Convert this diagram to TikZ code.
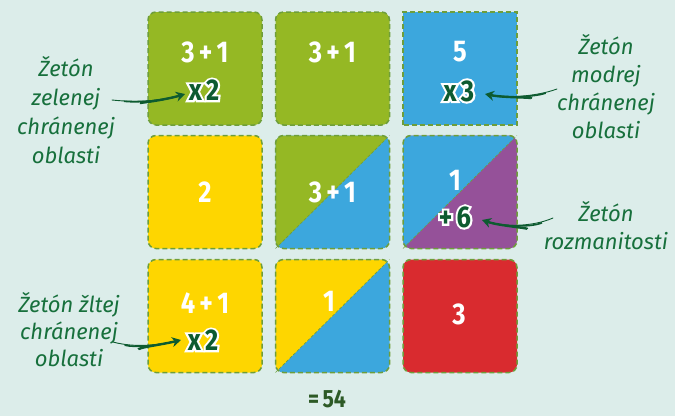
\documentclass[tikz,border=0pt]{standalone}
\usepackage{fontspec}
\setmainfont{Fira Sans}
\newfontfamily\numf{Fira Sans}[UprightFont=* Bold,WordSpace=0.7,FakeStretch=0.85]
\newfontfamily\numfo{Fira Sans}[UprightFont=* Bold,WordSpace=0.7,FakeStretch=0.85,FakeBold=14]
\usetikzlibrary{arrows.meta}
\definecolor{bg}{HTML}{DCEDEA}
\definecolor{grn}{HTML}{95B824}
\definecolor{blu}{HTML}{3CA7DD}
\definecolor{yel}{HTML}{FED600}
\definecolor{pur}{HTML}{955199}
\definecolor{redc}{HTML}{D92B2F}
\definecolor{dashc}{HTML}{6E9E3A}
\definecolor{labc}{HTML}{17703C}
\definecolor{mkc}{HTML}{0D5B30}
\definecolor{totc}{HTML}{2D5A26}
\tikzset{
  tile/.style={minimum width=114pt, minimum height=113pt, rounded corners=8pt, inner sep=0pt, outer sep=0pt},
  tborder/.style={draw=dashc, line width=1.5pt, dash pattern=on 5pt off 3pt, rounded corners=8pt},
  diag/.style={draw=dashc, line width=0.6pt, dash pattern=on 3pt off 2pt},
  num/.style={font=\numf\fontsize{30}{30}\selectfont, text=white, inner sep=0pt},
  mko/.style={font=\numfo\fontsize{30}{30}\selectfont, text=white, inner sep=0pt},
  mk/.style={font=\numf\fontsize{30}{30}\selectfont, text=mkc, inner sep=0pt},
  lab/.style={font=\itshape\fontsize{22}{28}\selectfont, text=labc, align=center, inner sep=0pt},
  arrc/.style={draw=mkc},
}
\newcommand\mytaper[4]{%
  \draw[arrc, line width=0.9pt, line cap=round, shorten >=7pt] #1 .. controls #2 and #3 .. #4;
  \draw[arrc, line width=1.6pt, shorten <=12pt, shorten >=7pt] #1 .. controls #2 and #3 .. #4;
  \draw[arrc, line width=2.4pt, shorten <=28pt, -{Stealth[length=9pt,width=10pt]}] #1 .. controls #2 and #3 .. #4;
}
\begin{document}
\begin{tikzpicture}[x=1pt,y=-1pt]
\fill[bg] (0,0) rectangle (675,416);
\useasboundingbox (0,0) rectangle (675,416);

% row 1
\node[tile, fill=grn] (t11) at (205,68.5) {};
\draw[tborder] (t11.south west) rectangle (t11.north east);
\node[tile, fill=grn] (t12) at (332.5,68.5) {};
\draw[tborder] (t12.south west) rectangle (t12.north east);
\node[tile, fill=blu, sharp corners] (t13) at (460,68.5) {};
\draw[tborder, sharp corners] (t13.south west) rectangle (t13.north east);

% row 2
\node[tile, fill=yel] (t21) at (205,192) {};
\draw[tborder] (t21.south west) rectangle (t21.north east);
\node[tile, fill=blu] (t22) at (332.5,192) {};
\begin{scope}
  \clip[rounded corners=8pt] (t22.south west) rectangle (t22.north east);
  \fill[grn] (t22.south west) -- (t22.north west) -- (t22.north east) -- cycle;
\end{scope}
\draw[diag] (t22.south west) -- (t22.north east);
\draw[tborder] (t22.south west) rectangle (t22.north east);
\node[tile, fill=pur] (t23) at (460,192) {};
\begin{scope}
  \clip[rounded corners=8pt] (t23.south west) rectangle (t23.north east);
  \fill[blu] (t23.south west) -- (t23.north west) -- (t23.north east) -- cycle;
\end{scope}
\draw[diag] (t23.south west) -- (t23.north east);
\draw[tborder] (t23.south west) rectangle (t23.north east);

% row 3
\node[tile, fill=yel] (t31) at (205,316) {};
\draw[tborder] (t31.south west) rectangle (t31.north east);
\node[tile, fill=blu] (t32) at (332.5,316) {};
\begin{scope}
  \clip[rounded corners=8pt] (t32.south west) rectangle (t32.north east);
  \fill[yel] (t32.south west) -- (t32.north west) -- (t32.north east) -- cycle;
\end{scope}
\draw[diag] (t32.south west) -- (t32.north east);
\draw[tborder] (t32.south west) rectangle (t32.north east);
\node[tile, fill=redc] (t33) at (460,316) {};
\draw[tborder] (t33.south west) rectangle (t33.north east);

% numbers
\node[num] (n11) at (205,52) {3 + 1};
\node[num] (n12) at (332.5,52) {3 + 1};
\node[num] (n13) at (460,52) {5};
\node[num] (n21) at (205,192) {2};
\node[num] (n22) at (332.5,192) {3 + 1};
\node[num] (n23) at (455,180) {1};
\node[num] (n31) at (205,303) {4 + 1};
\node[num] (n32) at (329,301) {1};
\node[num] (n33) at (459,314) {3};

% markers
\node[mko] (m11o) at (204,90) {x 2};
\node[mk]  (m11)  at (204,90) {x 2};
\node[mko] (m13o) at (459,91) {x 3};
\node[mk]  (m13)  at (459,91) {x 3};
\node[mko] (m23o) at (455,217) {+ 6};
\node[mk]  (m23)  at (455,217) {+ 6};
\node[mko] (m31o) at (203,340) {x 2};
\node[mk]  (m31)  at (203,340) {x 2};

% total
\node[font=\numf\fontsize{25}{25}\selectfont, text=totc, inner sep=0pt] (tot) at (327,399) {= 54};

% labels
\node[lab, font=\itshape\fontsize{22}{29}\selectfont] (l1) at (66,110.5) {Žetón\\zelenej\\chránenej\\oblasti};
\node[lab] (r1) at (606,87) {Žetón\\modrej\\chránenej\\oblasti};
\node[lab] (r2) at (606,226) {Žetón\\rozmanitosti};
\node[lab, font=\itshape\fontsize{22}{27}\selectfont] (l3) at (69,330) {Žetón žltej\\chránenej\\oblasti};

% arrows
\coordinate (a1s) at (112,100); \coordinate (a1e) at (185,94);
\coordinate (a2s) at (557,89);  \coordinate (a2e) at (485,94);
\coordinate (a3s) at (553,218); \coordinate (a3e) at (482,220);
\coordinate (a4s) at (113,342); \coordinate (a4e) at (181,340);
\mytaper{(a1s)}{(140,103)}{(165,100)}{(a1e)}
\mytaper{(a2s)}{(535,97)}{(505,98)}{(a2e)}
\mytaper{(a3s)}{(530,228)}{(500,226)}{(a3e)}
\mytaper{(a4s)}{(135,348)}{(160,345)}{(a4e)}
\end{tikzpicture}
\end{document}
